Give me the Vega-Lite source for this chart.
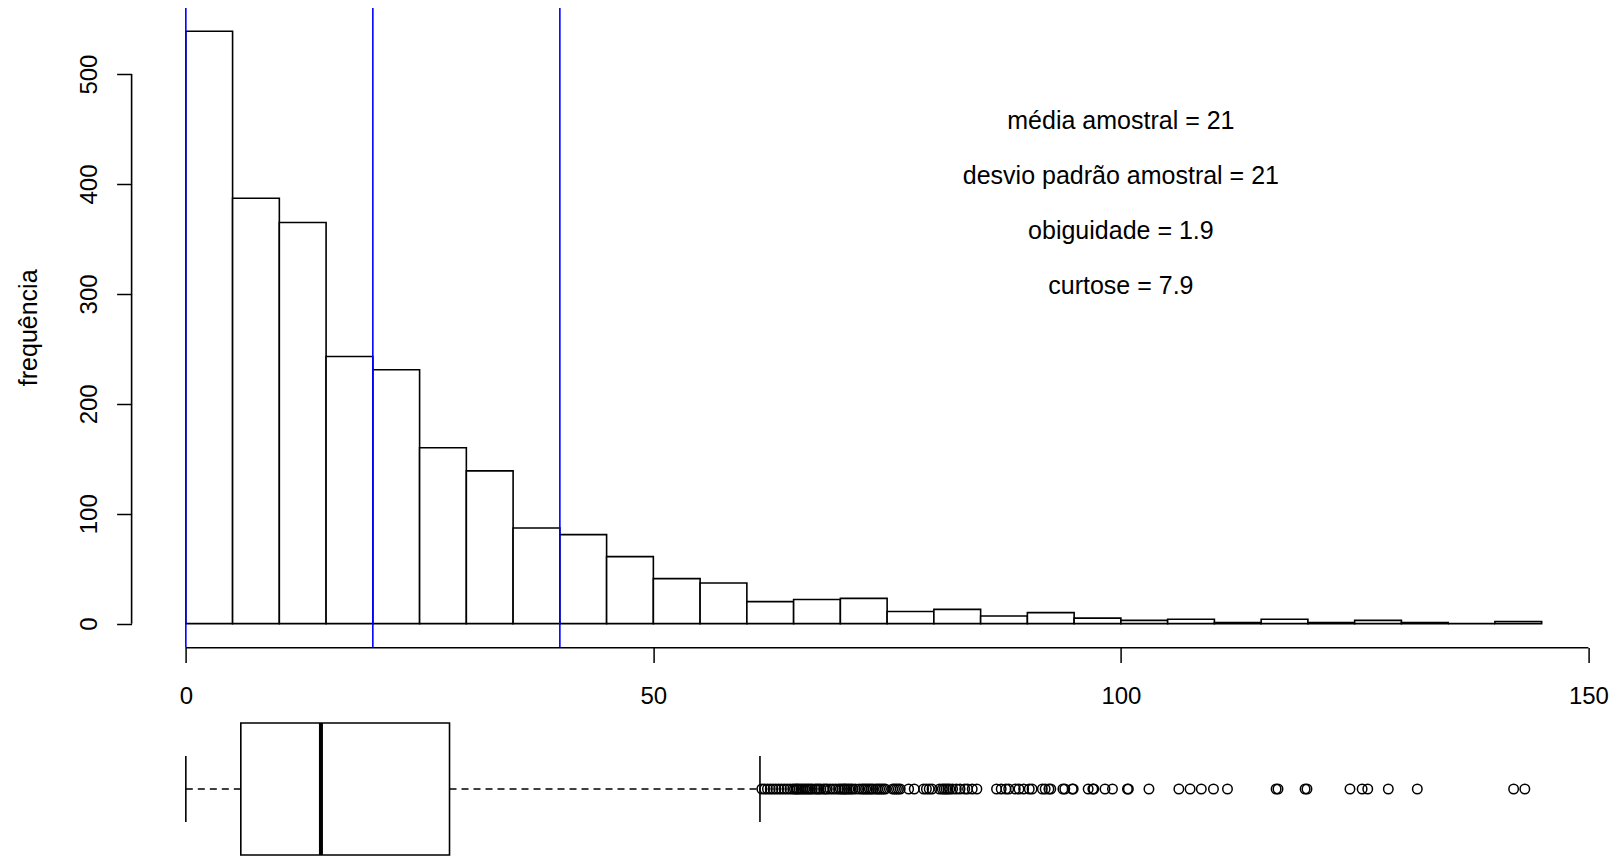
{
  "$schema": "https://vega.github.io/schema/vega-lite/v6.json",
  "width": 1464.3,
  "height": 849,
  "autosize": {"type": "none"},
  "padding": {"left": 131.6, "top": 8, "right": 18.1, "bottom": 0},
  "background": "white",
  "config": {
    "view": {"stroke": null},
    "font": "Liberation Sans",
    "axis": {"grid": false, "labelFont": "Liberation Sans", "titleFont": "Liberation Sans", "labelColor": "black", "titleColor": "black", "tickColor": "black", "tickWidth": 1.5, "labelFlush": false, "labelOverlap": false}
  },
  "datasets": {
    "hist": [
      {"b0": 0, "b1": 5, "n": 539}, {"b0": 5, "b1": 10, "n": 387}, {"b0": 10, "b1": 15, "n": 365},
      {"b0": 15, "b1": 20, "n": 243}, {"b0": 20, "b1": 25, "n": 231}, {"b0": 25, "b1": 30, "n": 160},
      {"b0": 30, "b1": 35, "n": 139}, {"b0": 35, "b1": 40, "n": 87}, {"b0": 40, "b1": 45, "n": 81},
      {"b0": 45, "b1": 50, "n": 61}, {"b0": 50, "b1": 55, "n": 41}, {"b0": 55, "b1": 60, "n": 37},
      {"b0": 60, "b1": 65, "n": 20}, {"b0": 65, "b1": 70, "n": 22}, {"b0": 70, "b1": 75, "n": 23},
      {"b0": 75, "b1": 80, "n": 11}, {"b0": 80, "b1": 85, "n": 13}, {"b0": 85, "b1": 90, "n": 7},
      {"b0": 90, "b1": 95, "n": 10}, {"b0": 95, "b1": 100, "n": 5}, {"b0": 100, "b1": 105, "n": 3},
      {"b0": 105, "b1": 110, "n": 4}, {"b0": 110, "b1": 115, "n": 1}, {"b0": 115, "b1": 120, "n": 4},
      {"b0": 120, "b1": 125, "n": 1}, {"b0": 125, "b1": 130, "n": 3}, {"b0": 130, "b1": 135, "n": 1},
      {"b0": 135, "b1": 140, "n": 0}, {"b0": 140, "b1": 145, "n": 2}
    ],
    "vlines": [{"v": 0}, {"v": 20}, {"v": 40}],
    "stats": [
      {"label": "média amostral = 21", "tx": 100, "ty": 460},
      {"label": "desvio padrão amostral = 21", "tx": 100, "ty": 410},
      {"label": "obiguidade = 1.9", "tx": 100, "ty": 360},
      {"label": "curtose = 7.9", "tx": 100, "ty": 310}
    ],
    "box": [{"lo": 0, "q1": 5.88, "med": 14.45, "q3": 28.2, "hi": 61.4}],
    "outliers": [
      {"v": 61.6}, {"v": 61.9}, {"v": 62.2}, {"v": 62.5}, {"v": 62.8}, {"v": 63.1}, {"v": 63.4}, {"v": 63.7}, {"v": 64.0}, {"v": 64.3}, {"v": 64.6}, {"v": 64.9},
      {"v": 65.1}, {"v": 65.3}, {"v": 65.4}, {"v": 65.6}, {"v": 65.8}, {"v": 66.0}, {"v": 66.2}, {"v": 66.4}, {"v": 66.6}, {"v": 66.8}, {"v": 67.0}, {"v": 67.3}, {"v": 67.5}, {"v": 67.7}, {"v": 67.9}, {"v": 68.2}, {"v": 68.4}, {"v": 68.6}, {"v": 68.9}, {"v": 69.2}, {"v": 69.5}, {"v": 69.8},
      {"v": 70.0}, {"v": 70.2}, {"v": 70.4}, {"v": 70.5}, {"v": 70.7}, {"v": 70.9}, {"v": 71.1}, {"v": 71.3}, {"v": 71.6}, {"v": 72.0}, {"v": 72.3}, {"v": 72.5}, {"v": 72.7}, {"v": 72.9}, {"v": 73.1}, {"v": 73.3}, {"v": 73.5}, {"v": 73.8}, {"v": 74.0}, {"v": 74.2}, {"v": 74.4}, {"v": 74.6}, {"v": 74.8},
      {"v": 75.6}, {"v": 75.8}, {"v": 76.0}, {"v": 76.2}, {"v": 76.4}, {"v": 77.3}, {"v": 77.9}, {"v": 78.9}, {"v": 79.2}, {"v": 79.5}, {"v": 79.8},
      {"v": 80.6}, {"v": 80.9}, {"v": 81.1}, {"v": 81.3}, {"v": 81.5}, {"v": 81.7}, {"v": 82.0}, {"v": 82.4}, {"v": 82.8}, {"v": 83.3}, {"v": 83.6}, {"v": 84.1}, {"v": 84.6},
      {"v": 86.7}, {"v": 87.2}, {"v": 87.7}, {"v": 88.0}, {"v": 88.7}, {"v": 89.1}, {"v": 89.6},
      {"v": 90.2}, {"v": 90.5}, {"v": 91.6}, {"v": 91.9}, {"v": 92.3}, {"v": 92.5}, {"v": 93.8}, {"v": 94.0}, {"v": 94.8}, {"v": 94.9},
      {"v": 96.5}, {"v": 97.0}, {"v": 97.1}, {"v": 98.3}, {"v": 99.1},
      {"v": 100.7}, {"v": 100.8}, {"v": 103.0},
      {"v": 106.2}, {"v": 107.4}, {"v": 108.6}, {"v": 109.9},
      {"v": 111.4},
      {"v": 116.6}, {"v": 116.8}, {"v": 119.7}, {"v": 119.9},
      {"v": 124.5},
      {"v": 125.8}, {"v": 126.4}, {"v": 128.6},
      {"v": 131.7},
      {"v": 142.0}, {"v": 143.2}
    ]
  },
  "layer": [
    {
      "data": {"name": "hist"},
      "mark": {"type": "rect", "fill": "white", "stroke": "black", "strokeWidth": 1.6},
      "encoding": {
        "x": {"field": "b0", "type": "quantitative", "title": null, "scale": {"domain": [-5.8, 150.8], "nice": false, "zero": false},
          "axis": {"title": null, "orient": "bottom", "values": [0, 50, 100, 150], "domain": false, "ticks": true, "tickSize": 15, "offset": -209.5, "labelFontSize": 24, "labelBaseline": "alphabetic", "labelPadding": 40.8, "zindex": 1}},
        "x2": {"field": "b1"},
        "y": {"field": "n", "type": "quantitative", "scale": {"domain": [-212.3, 560.1], "nice": false, "zero": false},
          "axis": {"title": "frequência", "orient": "left", "values": [0, 100, 200, 300, 400, 500], "domain": false, "ticks": true, "tickSize": 15, "labelFontSize": 24, "labelAngle": 270, "labelAlign": "center", "labelBaseline": "alphabetic", "labelPadding": 19.9, "zindex": 1,
            "titleFontSize": 25, "titleFontWeight": "normal", "titleAngle": 270, "titleX": -95, "titleY": 319.3, "titleAlign": "center", "titleBaseline": "alphabetic"}},
        "y2": {"datum": 0}
      }
    },
    {
      "data": {"name": "vlines"},
      "mark": {"type": "rule", "color": "#0000FF", "strokeWidth": 1.6},
      "encoding": {
        "x": {"field": "v", "type": "quantitative", "title": null},
        "y": {"datum": -21.9, "type": "quantitative", "scale": {"domain": [-212.3, 560.1], "nice": false, "zero": false}, "axis": null},
        "y2": {"datum": 560.1}
      }
    },
    {
      "data": {"values": [{}]},
      "mark": {"type": "rule", "color": "black", "strokeWidth": 1.6},
      "encoding": {
        "x": {"datum": 0, "type": "quantitative", "title": null},
        "x2": {"datum": 150},
        "y": {"datum": -21.9, "type": "quantitative", "scale": {"domain": [-212.3, 560.1], "nice": false, "zero": false}, "axis": null}
      }
    },
    {
      "data": {"values": [{}]},
      "mark": {"type": "rule", "color": "black", "strokeWidth": 1.6},
      "encoding": {
        "x": {"datum": -5.8, "type": "quantitative", "title": null},
        "y": {"datum": 0, "type": "quantitative", "scale": {"domain": [-212.3, 560.1], "nice": false, "zero": false}, "axis": null},
        "y2": {"datum": 500}
      }
    },
    {
      "data": {"name": "stats"},
      "mark": {"type": "text", "fontSize": 25, "align": "center", "baseline": "middle", "dy": 3, "color": "black", "font": "Liberation Sans"},
      "encoding": {
        "x": {"field": "tx", "type": "quantitative", "title": null},
        "y": {"field": "ty", "type": "quantitative", "scale": {"domain": [-212.3, 560.1], "nice": false, "zero": false}, "axis": null},
        "text": {"field": "label"}
      }
    },
    {
      "data": {"name": "box"},
      "mark": {"type": "rule", "color": "black", "strokeWidth": 1.6, "strokeDash": [7, 5]},
      "encoding": {
        "x": {"field": "lo", "type": "quantitative", "title": null},
        "x2": {"field": "q1"},
        "y": {"datum": 1, "type": "quantitative", "scale": {"domain": [0.5879, 5.7333], "nice": false, "zero": false}, "axis": null}
      }
    },
    {
      "data": {"name": "box"},
      "mark": {"type": "rule", "color": "black", "strokeWidth": 1.6, "strokeDash": [7, 5]},
      "encoding": {
        "x": {"field": "q3", "type": "quantitative", "title": null},
        "x2": {"field": "hi"},
        "y": {"datum": 1, "type": "quantitative", "scale": {"domain": [0.5879, 5.7333], "nice": false, "zero": false}, "axis": null}
      }
    },
    {
      "data": {"name": "box"},
      "mark": {"type": "rule", "color": "black", "strokeWidth": 1.6},
      "encoding": {
        "x": {"field": "lo", "type": "quantitative", "title": null},
        "y": {"datum": 0.8, "type": "quantitative", "scale": {"domain": [0.5879, 5.7333], "nice": false, "zero": false}, "axis": null},
        "y2": {"datum": 1.2}
      }
    },
    {
      "data": {"name": "box"},
      "mark": {"type": "rule", "color": "black", "strokeWidth": 1.6},
      "encoding": {
        "x": {"field": "hi", "type": "quantitative", "title": null},
        "y": {"datum": 0.8, "type": "quantitative", "scale": {"domain": [0.5879, 5.7333], "nice": false, "zero": false}, "axis": null},
        "y2": {"datum": 1.2}
      }
    },
    {
      "data": {"name": "box"},
      "mark": {"type": "rect", "fill": "white", "stroke": "black", "strokeWidth": 1.6},
      "encoding": {
        "x": {"field": "q1", "type": "quantitative", "title": null},
        "x2": {"field": "q3"},
        "y": {"datum": 0.6, "type": "quantitative", "scale": {"domain": [0.5879, 5.7333], "nice": false, "zero": false}, "axis": null},
        "y2": {"datum": 1.4}
      }
    },
    {
      "data": {"name": "box"},
      "mark": {"type": "rule", "color": "black", "strokeWidth": 4},
      "encoding": {
        "x": {"field": "med", "type": "quantitative", "title": null},
        "y": {"datum": 0.6, "type": "quantitative", "scale": {"domain": [0.5879, 5.7333], "nice": false, "zero": false}, "axis": null},
        "y2": {"datum": 1.4}
      }
    },
    {
      "data": {"name": "outliers"},
      "mark": {"type": "point", "shape": "circle", "filled": false, "stroke": "black", "strokeWidth": 1.5, "size": 90, "opacity": 1},
      "encoding": {
        "x": {"field": "v", "type": "quantitative", "title": null},
        "y": {"datum": 1, "type": "quantitative", "scale": {"domain": [0.5879, 5.7333], "nice": false, "zero": false}, "axis": null}
      }
    }
  ],
  "resolve": {"scale": {"y": "independent"}}
}
